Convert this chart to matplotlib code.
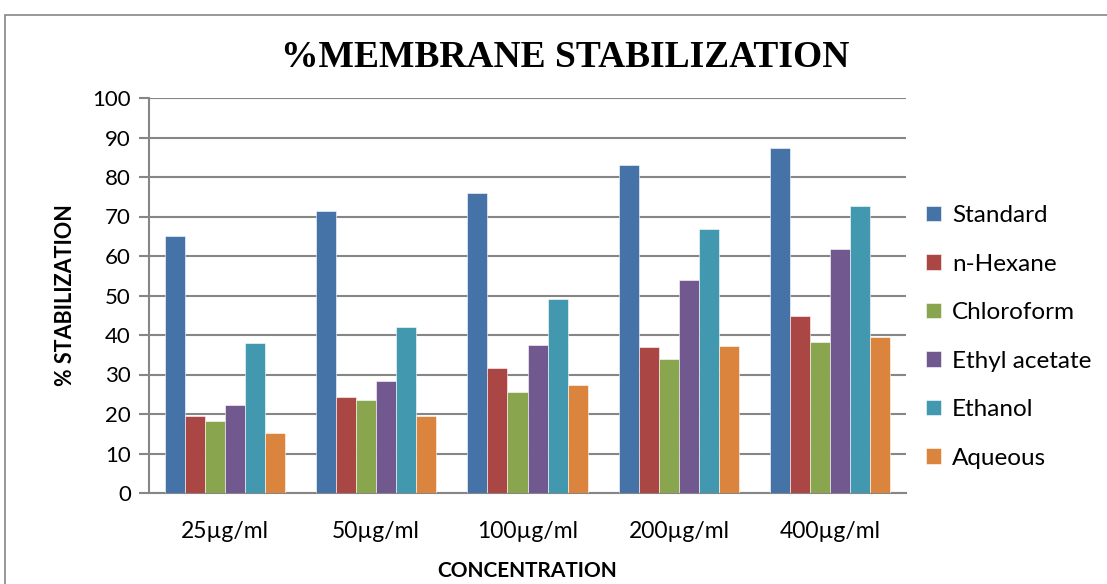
import matplotlib
matplotlib.use("Agg")
import matplotlib.pyplot as plt
import numpy as np
from matplotlib.patches import Rectangle

# --- data ---
concentrations = ["25µg/ml", "50µg/ml", "100µg/ml", "200µg/ml", "400µg/ml"]
standard = [65.1, 71.5, 75.9, 83.1, 87.4]
n_hexane = [19.5, 24.4, 31.6, 37.0, 44.9]
chloroform = [18.2, 23.6, 25.6, 33.9, 38.2]
ethyl_acetate = [22.4, 28.4, 37.4, 53.8, 61.7]
ethanol = [38.0, 42.1, 49.2, 66.9, 72.6]
aqueous = [15.3, 19.6, 27.4, 37.2, 39.5]

series_names = ["Standard", "n-Hexane", "Chloroform", "Ethyl acetate", "Ethanol", "Aqueous"]
series_values = [standard, n_hexane, chloroform, ethyl_acetate, ethanol, aqueous]
colors = ["#4572A7", "#AA4643", "#89A54E", "#71588F", "#4198AF", "#DB843D"]

font = ["Lato", "DejaVu Sans"]
plt.rcParams["font.family"] = font

fig = plt.figure(figsize=(11.07, 5.84), dpi=100)
ax = fig.add_axes([149 / 1107, 91 / 584, 757 / 1107, 395 / 584])

# outer chart border
fig.patches.append(Rectangle((5 / 1107, -0.1), 1.2, (584 - 15) / 584 + 0.1,
                             transform=fig.transFigure, fill=False,
                             edgecolor="#868686", linewidth=1.2))

x = np.arange(len(concentrations))
bw = 0.1323
for i, (name, vals) in enumerate(zip(series_names, series_values)):
    offs = (i - 2.5) * bw
    ax.bar(x + offs, vals, width=bw, color=colors[i], label=name,
           edgecolor="white", linewidth=0.4, zorder=3)

ax.set_xlim(-0.5, len(concentrations) - 0.5)
ax.set_ylim(0, 100)
ax.set_yticks(range(0, 101, 10))
ax.yaxis.grid(True, color="#868686", linewidth=1.5, zorder=0)
ax.set_axisbelow(True)

for s in ["top", "right"]:
    ax.spines[s].set_visible(False)
ax.spines["left"].set_color("#868686")
ax.spines["bottom"].set_color("#868686")
ax.spines["left"].set_linewidth(1.5)
ax.spines["bottom"].set_linewidth(1.5)

ax.set_xticks(x)
ax.set_xticklabels(concentrations, fontsize=16.5)
ax.tick_params(axis="x", length=0, pad=20)
ax.tick_params(axis="y", length=7, width=1.5, color="#868686", labelsize=16, pad=6)

ax.set_ylabel("% STABILIZATION", fontsize=15.5, fontweight="bold", labelpad=12)
ax.set_xlabel("CONCENTRATION", fontsize=15, fontweight="bold", labelpad=13.5)

fig.text(0.511, 0.902, "%MEMBRANE STABILIZATION", fontsize=27, fontweight="bold",
         family="Liberation Serif", ha="center", va="center")

ax.legend(loc="center left", bbox_to_anchor=(0.998, 0.395), frameon=False,
          fontsize=17.5, handlelength=0.6, handleheight=0.6, handletextpad=0.45,
          labelspacing=1.13)

fig.savefig("out.png", dpi=100)
